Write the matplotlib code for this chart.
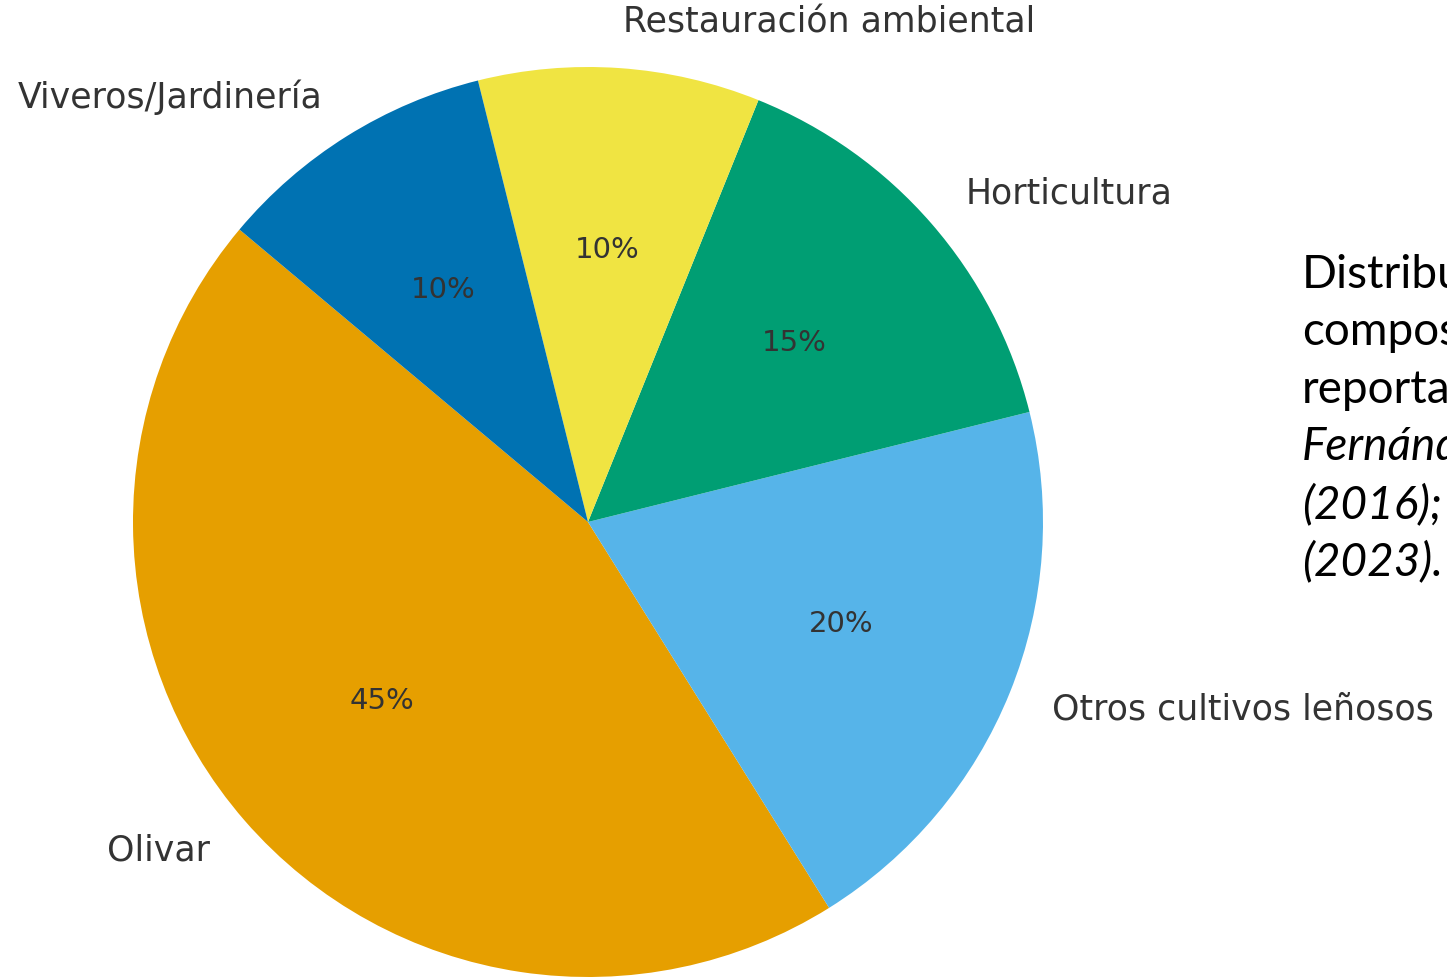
import matplotlib.pyplot as plt

# Datos del gráfico
usos = ["Olivar", "Otros cultivos leñosos", "Horticultura",
        "Restauración ambiental", "Viveros/Jardinería"]
porcentajes = [45, 20, 15, 10, 10]
colores = ["#E69F00", "#56B4E9", "#009E73", "#F0E442", "#0072B2"]

# Texto de la diapositiva (recortado en el borde derecho)
lineas_normales = ["Distribución", "compost", "reportado"]
lineas_cursiva = ["Fernández", "(2016);", "(2023)."]

W, H = 1447, 977
fig = plt.figure(figsize=(W / 100, H / 100), dpi=100)
ax = fig.add_axes([0, 0, 1, 1])

_, etiquetas, pcts = ax.pie(
    porcentajes,
    labels=usos,
    colors=colores,
    autopct="%1.0f%%",
    startangle=140,
    textprops={"color": "#333333"},
)
for t in etiquetas:
    t.set_fontsize(25)
for t in pcts:
    t.set_fontsize(21)

# centro del pastel en (588, 522) px, radio 455 px
r_px = 455.0
cx, cy = 588.0, H - 522.0
ax.set_aspect("auto")
ax.set_xlim(-cx / r_px, (W - cx) / r_px)
ax.set_ylim(-cy / r_px, (H - cy) / r_px)
ax.axis("off")

# bloque de texto a la derecha
x0 = 1302 / W
base_y = 288
paso = 57.5
for i, t in enumerate(lineas_normales):
    fig.text(x0, 1 - (base_y + i * paso) / H, t, fontsize=33,
             family="Lato", color="black", va="baseline", ha="left")
for j, t in enumerate(lineas_cursiva):
    k = len(lineas_normales) + j
    fig.text(x0, 1 - (base_y + k * paso) / H, t, fontsize=33,
             family="Lato", style="italic", color="black",
             va="baseline", ha="left")

fig.savefig("out.png", dpi=100)
